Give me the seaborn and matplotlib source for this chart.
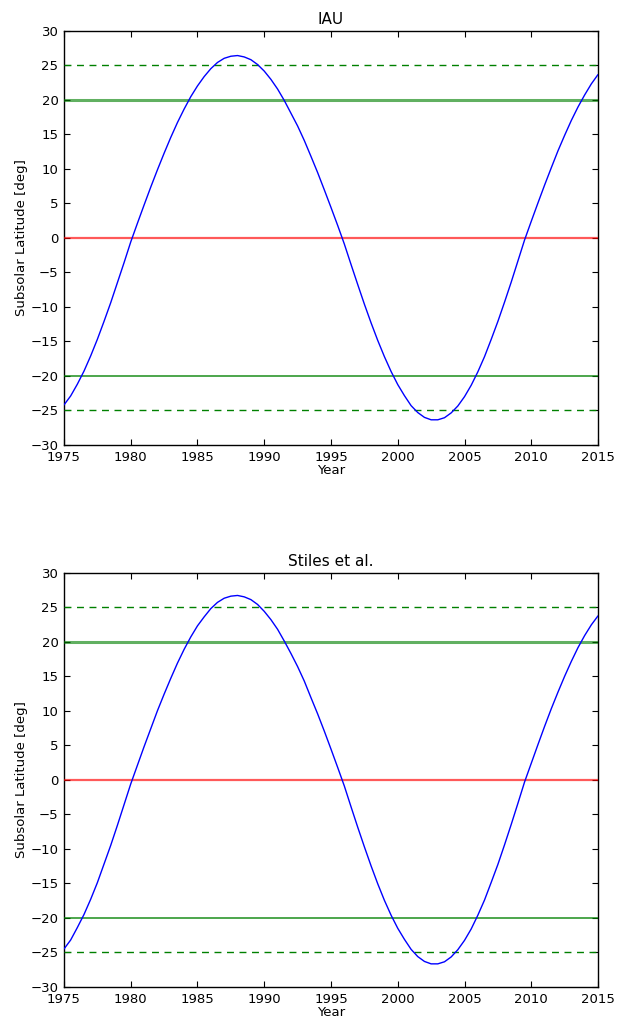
import numpy as np
import pandas as pd
import matplotlib
matplotlib.use("Agg")
import matplotlib.pyplot as plt
import seaborn as sns

# ---- data (half-year sampling) ----
years = [1975 + 0.5 * i for i in range(81)]
iau_lat = [
    -24.2, -22.9, -21.2, -19.3, -17.1, -14.7, -12.1, -9.4, -6.5, -3.6, -0.6,
    2.1, 4.75, 7.35, 9.85, 12.25, 14.55, 16.7, 18.65, 20.45, 22.0, 23.35, 24.5, 25.4, 26.0, 26.3, 26.4,
    26.2, 25.8, 25.1, 24.15, 22.95, 21.55, 19.9, 18.05, 16.2, 14.1, 11.8, 9.45, 6.95, 4.4, 1.8,
    -0.9, -3.85, -6.75, -9.6, -12.3, -14.85, -17.2, -19.35, -21.25, -22.85, -24.3, -25.3, -26.0, -26.35, -26.35,
    -26.05, -25.35, -24.35, -23.0, -21.35, -19.4, -17.2, -14.7, -12.1, -9.3, -6.4, -3.35, -0.3,
    2.4, 5.05, 7.65, 10.15, 12.6, 14.85, 17.0, 18.95, 20.7, 22.3, 23.65]
stiles_lat = [
    -24.5, -23.2, -21.4, -19.5, -17.3, -14.9, -12.2, -9.5, -6.6, -3.6, -0.6,
    2.1, 4.8, 7.4, 10.0, 12.4, 14.7, 16.9, 18.9, 20.7, 22.3, 23.6, 24.8, 25.7, 26.3, 26.6, 26.7,
    26.5, 26.1, 25.4, 24.4, 23.2, 21.8, 20.1, 18.3, 16.4, 14.3, 11.9, 9.55, 7.05, 4.45, 1.8,
    -0.9, -3.9, -6.85, -9.7, -12.45, -15.05, -17.45, -19.6, -21.5, -23.1, -24.55, -25.6, -26.3, -26.65, -26.65,
    -26.35, -25.65, -24.6, -23.25, -21.6, -19.6, -17.4, -14.85, -12.25, -9.4, -6.45, -3.4, -0.3,
    2.4, 5.1, 7.75, 10.3, 12.7, 15.0, 17.15, 19.15, 20.9, 22.45, 23.75]
titles = ["IAU", "Stiles et al."]
equator_level = [0]
tropic_levels = [20, -20]
limit_levels = [25, -25]
x_ticks = list(range(1975, 2016, 5))
y_ticks = list(range(-30, 31, 5))

sns.set_style("ticks")
plt.rcParams["font.family"] = ["DejaVu Sans"]
plt.rcParams["xtick.direction"] = "in"
plt.rcParams["ytick.direction"] = "in"
plt.rcParams["xtick.top"] = True
plt.rcParams["ytick.right"] = True
plt.rcParams["text.color"] = "black"
plt.rcParams["axes.labelcolor"] = "black"
plt.rcParams["xtick.color"] = "black"
plt.rcParams["ytick.color"] = "black"

fig = plt.figure(figsize=(6.21, 10.23), dpi=100)
ax_top = fig.add_axes([0.103, 0.565, 0.860, 0.405])
ax_bot = fig.add_axes([0.103, 0.0352, 0.860, 0.405])

for ax, title, lat in zip([ax_top, ax_bot], titles, [iau_lat, stiles_lat]):
    df = pd.DataFrame({"Year": years, "lat": lat})
    sns.lineplot(data=df, x="Year", y="lat", ax=ax, color="#0000ff", lw=1.0, zorder=5)
    for lv in equator_level:
        ax.axhline(lv, color="#ff0000", alpha=0.65, lw=1.6, zorder=3)
    ax.axhline(tropic_levels[0], color="#008000", alpha=0.62, lw=2.2, zorder=3)
    ax.axhline(tropic_levels[1], color="#008000", alpha=0.7, lw=1.4, zorder=3)
    for lv in limit_levels:
        ax.axhline(lv, color="#008000", lw=1.0, dashes=(5, 4), zorder=3)
    ax.set_xlim(1975, 2015)
    ax.set_ylim(-30, 30)
    ax.set_xticks(x_ticks)
    ax.set_yticks(y_ticks)
    ax.tick_params(axis="both", which="major", length=4.5, width=0.8,
                   color="black", labelcolor="black", labelsize=9.5, pad=4)
    for sp in ax.spines.values():
        sp.set_color("black")
        sp.set_linewidth(1.0)
    ax.set_title(title, fontsize=11, pad=5, color="black")
    ax.set_xlabel("Year", fontsize=9.5, labelpad=0.5, color="black")
    ax.set_ylabel("Subsolar Latitude [deg]", fontsize=9.5, labelpad=2, color="black")

fig.savefig("out.png", dpi=100)
